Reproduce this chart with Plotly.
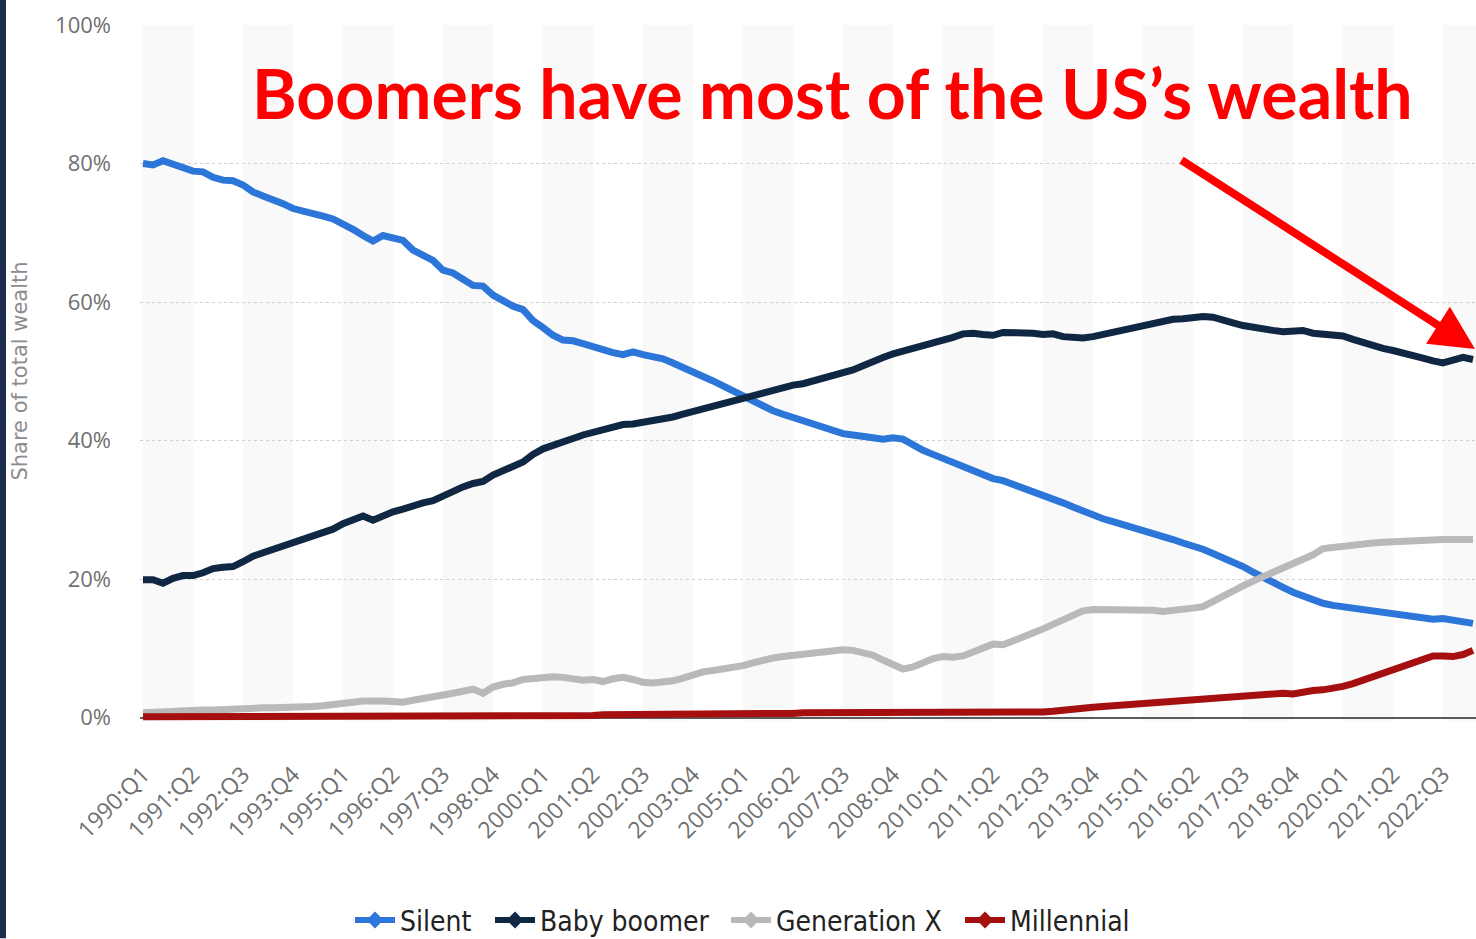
import plotly.graph_objects as go

# Quarterly share of total US household wealth by generation, 1990:Q1 - 2023:Q2 (%)
years = list(range(1990, 2024))
quarters = [f"{y}:Q{q}" for y in years for q in (1, 2, 3, 4)][:134]

silent = [
    80.0, 79.8, 80.4, 79.9, 79.3, 78.9, 78.8, 78.0, 77.6, 77.5,
    76.9, 75.9, 75.3, 74.8, 74.2, 73.5, 73.2, 72.9, 72.4, 72.0,
    71.3, 70.5, 69.6, 68.8, 69.6, 69.3, 68.9, 67.5, 66.7, 66.0,
    64.6, 64.2, 63.3, 62.4, 62.3, 61.0, 60.2, 59.4, 58.9, 57.3,
    56.3, 55.2, 54.5, 54.4, 54.0, 53.5, 53.2, 52.7, 52.4, 52.8,
    52.4, 52.2, 51.8, 51.2, 50.6, 50.0, 49.3, 48.6, 47.9, 47.2,
    46.4, 45.6, 44.9, 44.3, 43.8, 43.3, 42.8, 42.3, 41.8, 41.3,
    41.0, 40.8, 40.7, 40.4, 40.2, 40.4, 40.2, 39.3, 38.6, 38.0,
    37.4, 36.8, 36.2, 35.6, 35.0, 34.5, 34.2, 33.7, 33.1, 32.6,
    32.1, 31.6, 31.0, 30.4, 29.8, 29.2, 28.7, 28.3, 27.9, 27.5,
    27.1, 26.7, 26.2, 25.7, 25.2, 24.8, 24.3, 23.7, 23.1, 22.4,
    21.8, 21.0, 20.2, 19.5, 18.8, 18.1, 17.5, 16.9, 16.5, 16.2,
    16.0, 15.8, 15.6, 15.4, 15.2, 15.0, 14.8, 14.6, 14.4, 14.2,
    14.3, 14.0, 13.8, 13.6,
]

baby_boomer = [
    19.9, 19.9, 19.4, 20.1, 20.5, 20.5, 20.9, 21.5, 21.7, 21.8,
    22.5, 23.3, 23.8, 24.3, 24.9, 25.4, 25.7, 26.2, 26.7, 27.2,
    28.0, 28.6, 29.1, 28.5, 29.2, 29.7, 30.1, 30.6, 31.0, 31.3,
    32.0, 32.6, 33.3, 33.8, 34.1, 35.0, 35.7, 36.4, 36.9, 38.0,
    38.8, 39.3, 39.9, 40.3, 40.8, 41.2, 41.6, 42.0, 42.3, 42.4,
    42.6, 42.9, 43.1, 43.4, 43.8, 44.2, 44.6, 45.0, 45.4, 45.7,
    46.0, 46.4, 46.9, 47.3, 47.6, 48.0, 48.2, 48.6, 48.9, 49.3,
    49.8, 50.2, 50.8, 51.5, 52.0, 52.5, 52.9, 53.3, 53.5, 53.9,
    54.3, 54.9, 55.4, 55.5, 55.3, 55.2, 55.6, 55.6, 55.5, 55.5,
    55.3, 55.4, 55.0, 54.8, 54.8, 55.0, 55.3, 55.6, 55.9, 56.3,
    56.6, 56.8, 57.3, 57.5, 57.6, 57.8, 57.9, 57.8, 57.3, 57.0,
    56.6, 56.3, 56.1, 55.9, 55.7, 55.8, 55.9, 55.5, 55.4, 55.2,
    55.1, 54.6, 54.1, 53.7, 53.3, 53.0, 52.7, 52.4, 51.9, 51.5,
    51.2, 51.6, 52.0, 51.7,
]

generation_x = [
    0.7, 0.8, 0.8, 0.9, 1.0, 1.0, 1.1, 1.1, 1.2, 1.2,
    1.3, 1.3, 1.4, 1.4, 1.4, 1.5, 1.5, 1.6, 1.7, 1.8,
    2.0, 2.2, 2.4, 2.5, 2.4, 2.3, 2.2, 2.5, 2.7, 3.0,
    3.3, 3.5, 3.8, 4.1, 3.5, 4.4, 4.8, 5.0, 5.5, 5.7,
    5.8, 5.9, 5.8, 5.6, 5.4, 5.5, 5.2, 5.6, 5.8, 5.5,
    5.1, 5.0, 5.1, 5.3, 5.7, 6.2, 6.6, 6.8, 7.0, 7.2,
    7.5, 7.9, 8.3, 8.6, 8.8, 9.0, 9.2, 9.4, 9.6, 9.7,
    9.8, 9.7, 9.4, 9.0, 8.3, 7.6, 7.0, 7.3, 8.0, 8.5,
    8.8, 8.7, 8.9, 9.5, 10.1, 10.6, 10.5, 11.0, 11.6, 12.2,
    12.8, 13.4, 14.1, 14.8, 15.4, 15.6, 15.6, 15.6, 15.5, 15.4,
    15.4, 15.5, 15.3, 15.4, 15.6, 15.8, 16.0, 16.8, 17.6, 18.3,
    19.0, 19.7, 20.3, 21.0, 21.6, 22.2, 22.8, 23.5, 24.4, 24.6,
    24.8, 24.9, 25.1, 25.2, 25.3, 25.4, 25.5, 25.6, 25.7, 25.7,
    25.7, 25.7, 25.7, 25.7,
]

millennial = [
    0.1, 0.1, 0.1, 0.1, 0.1, 0.1, 0.1, 0.1, 0.1, 0.1,
    0.1, 0.1, 0.1, 0.1, 0.1, 0.2, 0.2, 0.2, 0.2, 0.2,
    0.2, 0.2, 0.2, 0.2, 0.2, 0.2, 0.2, 0.2, 0.2, 0.2,
    0.2, 0.2, 0.2, 0.2, 0.2, 0.3, 0.3, 0.3, 0.3, 0.3,
    0.3, 0.3, 0.3, 0.3, 0.3, 0.3, 0.4, 0.4, 0.4, 0.4,
    0.4, 0.4, 0.4, 0.4, 0.5, 0.5, 0.5, 0.5, 0.5, 0.5,
    0.5, 0.6, 0.6, 0.6, 0.6, 0.6, 0.7, 0.7, 0.7, 0.8,
    0.8, 0.8, 0.7, 0.7, 0.6, 0.6, 0.6, 0.7, 0.7, 0.7,
    0.7, 0.8, 0.8, 0.8, 0.8, 0.8, 0.7, 0.7, 0.7, 0.7,
    0.8, 0.9, 1.1, 1.3, 1.4, 1.5, 1.6, 1.7, 1.8, 1.9,
    2.0, 2.1, 2.2, 2.4, 2.5, 2.7, 2.8, 2.9, 3.0, 3.1,
    3.2, 3.3, 3.4, 3.5, 3.5, 3.4, 3.7, 3.9, 4.0, 4.2,
    4.5, 4.9, 5.4, 5.9, 6.3, 6.8, 7.3, 7.8, 8.5, 8.9,
    8.9, 8.8, 9.1, 9.7,
]

series = [
    ("Silent", silent, "#2b76d8"),
    ("Baby boomer", baby_boomer, "#0f2742"),
    ("Generation X", generation_x, "#b9b9b9"),
    ("Millennial", millennial, "#a60f0f"),
]

y_ticks = [0, 20, 40, 60, 80, 100]
x_ticks = quarters[::5]

TEXT_GREY = "#707070"
BASE_FONT = "Open Sans, Liberation Sans, sans-serif"
LEGEND_FONT = dict(family="DejaVu Sans Condensed, Liberation Sans Narrow, sans-serif",
                   size=28, color="#222222")

plot_w = 1336
plot_h = 696.5

fig = go.Figure()

for name, values, color in series:
    fig.add_trace(go.Scatter(
        x=quarters, y=values, name=name, mode="lines",
        line=dict(color=color, width=7),
        legendgroup=name, showlegend=False,
    ))

# legend entries (one small legend box per series): thick line with a diamond marker
legend_ids = ["legend", "legend2", "legend3", "legend4"]
for (name, values, color), lid in zip(series, legend_ids):
    fig.add_trace(go.Scatter(
        x=[None], y=[None], name=name, mode="lines+markers",
        line=dict(color=color, width=6),
        marker=dict(color=color, size=13, symbol="diamond"),
        legendgroup=name, showlegend=True, legend=lid,
    ))

legend_left_px = [350, 490, 726, 960]
legend_layout = {}
for lid, left in zip(legend_ids, legend_left_px):
    legend_layout[lid] = dict(
        orientation="h", x=(left - 140) / plot_w, xanchor="left",
        y=-(921 - 721.5) / plot_h, yanchor="middle",
        font=LEGEND_FONT, itemwidth=40, bgcolor="rgba(0,0,0,0)",
    )

# alternating light column bands between x ticks
shapes = []
for i in range(0, len(quarters), 10):
    shapes.append(dict(
        type="rect", xref="x", yref="y", layer="below",
        x0=i, x1=i + 5, y0=-0.5, y1=100,
        fillcolor="#f9f9f9", line=dict(width=0),
    ))

# dark border along the left edge of the page
shapes.append(dict(
    type="rect", xref="paper", yref="paper", layer="above",
    x0=-140 / plot_w, x1=-134 / plot_w,
    y0=-(217.5 / plot_h), y1=1 + 25 / plot_h,
    fillcolor="#1d2b4c", line=dict(width=0),
))

annotations = [
    dict(
        text="Share of total wealth", textangle=-90,
        xref="paper", yref="paper", x=-120 / plot_w, y=0.502,
        xanchor="center", yanchor="middle", showarrow=False,
        font=dict(family="DejaVu Sans, sans-serif", size=21, color="#8c8c8c"),
    ),
    dict(
        text="<b>Boomers have most of the US’s wealth</b>",
        xref="paper", yref="paper", x=(832 - 140) / plot_w, y=(721.5 - 93) / plot_h,
        xanchor="center", yanchor="middle", showarrow=False,
        font=dict(family="Lato, Carlito, sans-serif", size=68, color="#ff0000"),
    ),
    dict(
        text="", xref="paper", yref="y", x=(1488 - 140) / plot_w, y=53.2,
        ax=-308, ay=-190, axref="pixel", ayref="pixel",
        showarrow=True, arrowhead=2, arrowsize=1.1, arrowwidth=8,
        arrowcolor="#ff0000",
    ),
]

fig.update_layout(
    width=1476, height=939,
    margin=dict(l=140, r=0, t=25, b=217.5, autoexpand=False),
    paper_bgcolor="white", plot_bgcolor="white",
    font=dict(family=BASE_FONT, color=TEXT_GREY),
    shapes=shapes, annotations=annotations,
    showlegend=True,
    **legend_layout,
    xaxis=dict(
        type="category", range=[-0.3, 133.3],
        tickmode="array", tickvals=x_ticks, ticktext=x_ticks,
        tickangle=-45, ticks="outside", ticklen=30, tickcolor="rgba(0,0,0,0)",
        tickfont=dict(family=BASE_FONT, size=23, color=TEXT_GREY),
        showgrid=False, zeroline=False, showline=False,
    ),
    yaxis=dict(
        range=[-0.5, 100], tickmode="array", tickvals=y_ticks,
        ticktext=[f"{v}%" for v in y_ticks],
        tickfont=dict(family=BASE_FONT, size=22, color=TEXT_GREY),
        ticklabelstandoff=28,
        showgrid=True, gridcolor="#cfcfcf", griddash="dot", gridwidth=1,
        zeroline=True, zerolinecolor="#5c5c5c", zerolinewidth=2,
        showline=False,
    ),
)

fig.write_html("out.html")
